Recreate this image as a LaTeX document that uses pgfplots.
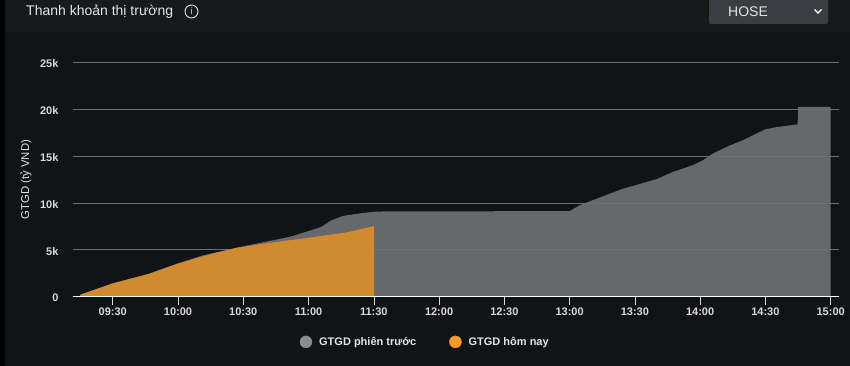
\documentclass[border=0pt]{standalone}
\usepackage{pgfplots}
\pgfplotsset{compat=1.18}
\usepackage{fontspec}
\setmainfont{Liberation Sans}
\definecolor{bgmain}{HTML}{121316}
\definecolor{bgbar}{HTML}{18191B}
\definecolor{gridc}{HTML}{707072}
\definecolor{grayfill}{HTML}{67686C}
\definecolor{orangefill}{HTML}{D08A30}
\definecolor{drop}{HTML}{3C3D42}
\definecolor{txt}{HTML}{E4E4E4}
\definecolor{ticktxt}{HTML}{D8D8D8}
\definecolor{leggray}{HTML}{8C8C8E}
\definecolor{legorange}{HTML}{F59A2C}
\begin{document}
\begin{tikzpicture}[x=1pt,y=1pt]
\useasboundingbox (0,0) rectangle (850,366);
\fill[bgmain] (0,0) rectangle (850,366);
\fill[bgbar] (0,334) rectangle (850,366);
\fill[black] (0,0) rectangle (5,366);
\node[anchor=west,text=txt,inner sep=0pt] at (26,354.5) {\fontsize{14pt}{16pt}\selectfont Thanh khoản thị trường};
\draw[txt,line width=0.9pt] (191.5,354.5) circle (6.5);
\node[text=txt,inner sep=0pt] at (191.5,354.5) {\fontsize{9pt}{10pt}\selectfont i};
\fill[drop,rounded corners=2pt] (709,342) rectangle (828,372);
\node[anchor=west,text=txt,inner sep=0pt] at (728,354.5) {\fontsize{14pt}{16pt}\selectfont HOSE};
\draw[white,line width=1.4pt] (814.5,356.5) -- (818,353) -- (821.5,356.5);
\begin{axis}[
  at={(72.5pt,69.5pt)}, anchor=south west,
  scale only axis, width=766pt, height=234pt,
  xmin=551.5, xmax=903.6, ymin=0, ymax=25000,
  axis on top,
  axis x line=bottom, axis y line=left,
  axis line style={-}, x axis line style={white,line width=1pt}, y axis line style={draw=none},
  xtick={570,600,630,660,690,720,750,780,810,840,870,900},
  xticklabels={09:30,10:00,10:30,11:00,11:30,12:00,12:30,13:00,13:30,14:00,14:30,15:00},
  ytick={0,5000,10000,15000,20000,25000},
  yticklabels={0,5k,10k,15k,20k,25k},
  scaled y ticks=false,
  ymajorgrids, grid style={gridc,line width=0.7pt},
  tick align=outside,
  major x tick style={white!85!black,line width=0.6pt},
  major y tick style={draw=none},
  major tick length=8.5pt,
  /pgf/number format/assume math mode=true,
  xticklabel style={yshift=1pt,text=ticktxt,font=\fontsize{11pt}{13pt}\selectfont\bfseries},
  yticklabel style={xshift=-2pt,yshift=-1.5pt,text=ticktxt,font=\fontsize{11pt}{13pt}\selectfont\bfseries},
  ylabel={GTGD (tỷ VND)},
  every axis y label/.style={at={(axis description cs:-0.0607,0.5)},anchor=center,rotate=90,text=txt,font=\fontsize{11.3pt}{13pt}\selectfont},
  legend columns=2,
  legend style={at={(axis description cs:0.4605,-0.194)},anchor=center,draw=none,fill=none,text=txt,
    font=\fontsize{11pt}{13pt}\selectfont\bfseries,/tikz/every even column/.style={column sep=31pt}},
  legend cell align=left,
  clip=false,
]
\addplot[draw=none,fill=grayfill,forget plot] coordinates {
 (555,180) (570,1400) (586.4,2420) (599.4,3500) (611.6,4400) (627,5220) (642.3,5950) (651.5,6380)
 (660,6990) (666,7450) (670,8090) (676,8620) (683.7,8880) (689.8,9050) (695,9090) (780,9120)
 (784.8,9765) (794,10585) (804,11474) (820,12540) (827.6,13320) (836.8,14040) (841.4,14570)
 (846,15290) (852.2,15990) (859.8,16710) (869.8,17850) (875.2,18100) (884.8,18390)
 (885.1,20270) (900,20270)} \closedcycle;
\addlegendimage{legend image code/.code={\fill[leggray] (0pt,0pt) circle (6pt);}}
\addlegendentry{\hspace{5pt}GTGD phiên trước}
\addlegendimage{legend image code/.code={\fill[legorange] (0pt,0pt) circle (6pt);}}
\addlegendentry{\hspace{5pt}GTGD hôm nay}
\end{axis}
\begin{axis}[
  at={(72.5pt,69.5pt)}, anchor=south west,
  scale only axis, width=766pt, height=234pt,
  xmin=551.5, xmax=903.6, ymin=0, ymax=25000,
  hide axis, clip=false,
]
\addplot[draw=none,fill=orangefill,forget plot] coordinates {
 (555,180) (570,1400) (586.4,2390) (599.4,3460) (611.6,4320) (627,5200) (642.3,5740) (659.9,6270)
 (677.5,6850) (690.1,7520) (690.1,60) (555,60)};
\end{axis}
\end{tikzpicture}
\end{document}
